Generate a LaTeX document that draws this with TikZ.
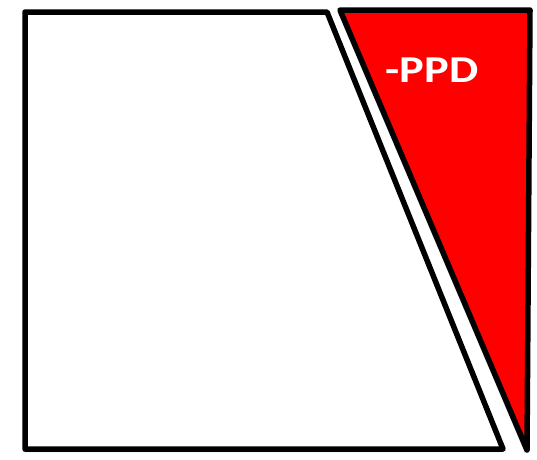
\documentclass[tikz,border=0pt]{standalone}
\usepackage{fontspec}
\setmainfont{Carlito}
\usetikzlibrary{shadows}
\begin{document}
\begin{tikzpicture}[x=1pt,y=-1pt,
  outlined/.style={line width=5.5pt,line join=round,draw=black,
    drop shadow={shadow xshift=-2pt,shadow yshift=-3pt,opacity=0.25,fill=black}},
  lbl/.style={text=white,font=\bfseries\fontsize{38}{38}\selectfont,inner sep=0pt}]
\useasboundingbox (0,0) rectangle (537,459);
\fill[white] (0,0) rectangle (537,459);
\path[outlined,fill=white] (25,12) -- (327,12) -- (503,449) -- (25,449) -- cycle;
\path[outlined,fill=red] (340,10) -- (530,10) -- (527,450) -- cycle;
\node[lbl,xscale=1.22] (ppd) at (432,70) {-PPD};
\end{tikzpicture}
\end{document}
